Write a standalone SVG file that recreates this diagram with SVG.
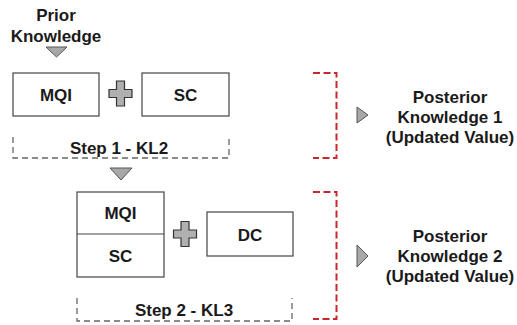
<svg xmlns="http://www.w3.org/2000/svg" width="517" height="325" viewBox="0 0 517 325">
<style>
text{font-family:"Liberation Sans",Arial,sans-serif;font-weight:bold;font-size:17px;fill:#1a1a1a;text-anchor:middle}
.box{fill:#fff;stroke:#444;stroke-width:1.2}
.tri{fill:#a8a8a8;stroke:#555;stroke-width:1}
.plus{fill:#b0b0b0;stroke:#333;stroke-width:1.2}
.step{fill:none;stroke:#666;stroke-width:1.3;stroke-dasharray:6 4}
.red{fill:none;stroke:#c8282d;stroke-width:2;stroke-dasharray:7 3.5}
</style>
<defs>
<path id="plusShape" d="M-4,-12.5 H4 V-4 H11.5 V4 H4 V12.5 H-4 V4 H-11.5 V-4 H-4 Z"/>
</defs>
<g id="prior">
<text x="56" y="21">Prior</text>
<text x="56" y="42">Knowledge</text>
</g>
<g id="connectors">
<polygon class="tri" points="46,47 67,47 56.5,57"/>
<polygon class="tri" points="110,168 132,168 121,180"/>
<use href="#plusShape" class="plus" x="120.5" y="93.5"/>
<use href="#plusShape" class="plus" x="185" y="234"/>
<polyline class="red" points="313,73 336.5,73 336.5,158 313,158"/>
<polyline class="red" points="313,192 336.5,192 336.5,319 313,319"/>
<polygon class="tri" points="357,107 368,115 357,123"/>
<polygon class="tri" points="357,245 368,256 357,267"/>
</g>
<g id="mqi1">
<rect class="box" x="13" y="73" width="86" height="43"/>
<text x="56" y="101">MQI</text>
</g>
<g id="sc1">
<rect class="box" x="142" y="73" width="87" height="43"/>
<text x="185.5" y="101">SC</text>
</g>
<g id="step1">
<path class="step" d="M13,137 V158 H229 V137"/>
<text x="119" y="154">Step 1 - KL2</text>
</g>
<g id="stack">
<rect class="box" x="77" y="192" width="87" height="85"/>
<line x1="77" y1="234" x2="164" y2="234" stroke="#444" stroke-width="1.2"/>
<text x="120.5" y="219">MQI</text>
<text x="120.5" y="262">SC</text>
</g>
<g id="dc">
<rect class="box" x="207" y="212" width="86" height="44"/>
<text x="250" y="241">DC</text>
</g>
<g id="step2">
<path class="step" d="M77,298 V321 H292 V298"/>
<text x="184" y="316">Step 2 - KL3</text>
</g>
<g id="post1">
<text x="450" y="103">Posterior</text>
<text x="450" y="123">Knowledge 1</text>
<text x="450" y="143">(Updated Value)</text>
</g>
<g id="post2">
<text x="450" y="242">Posterior</text>
<text x="450" y="262">Knowledge 2</text>
<text x="450" y="282">(Updated Value)</text>
</g>
</svg>
